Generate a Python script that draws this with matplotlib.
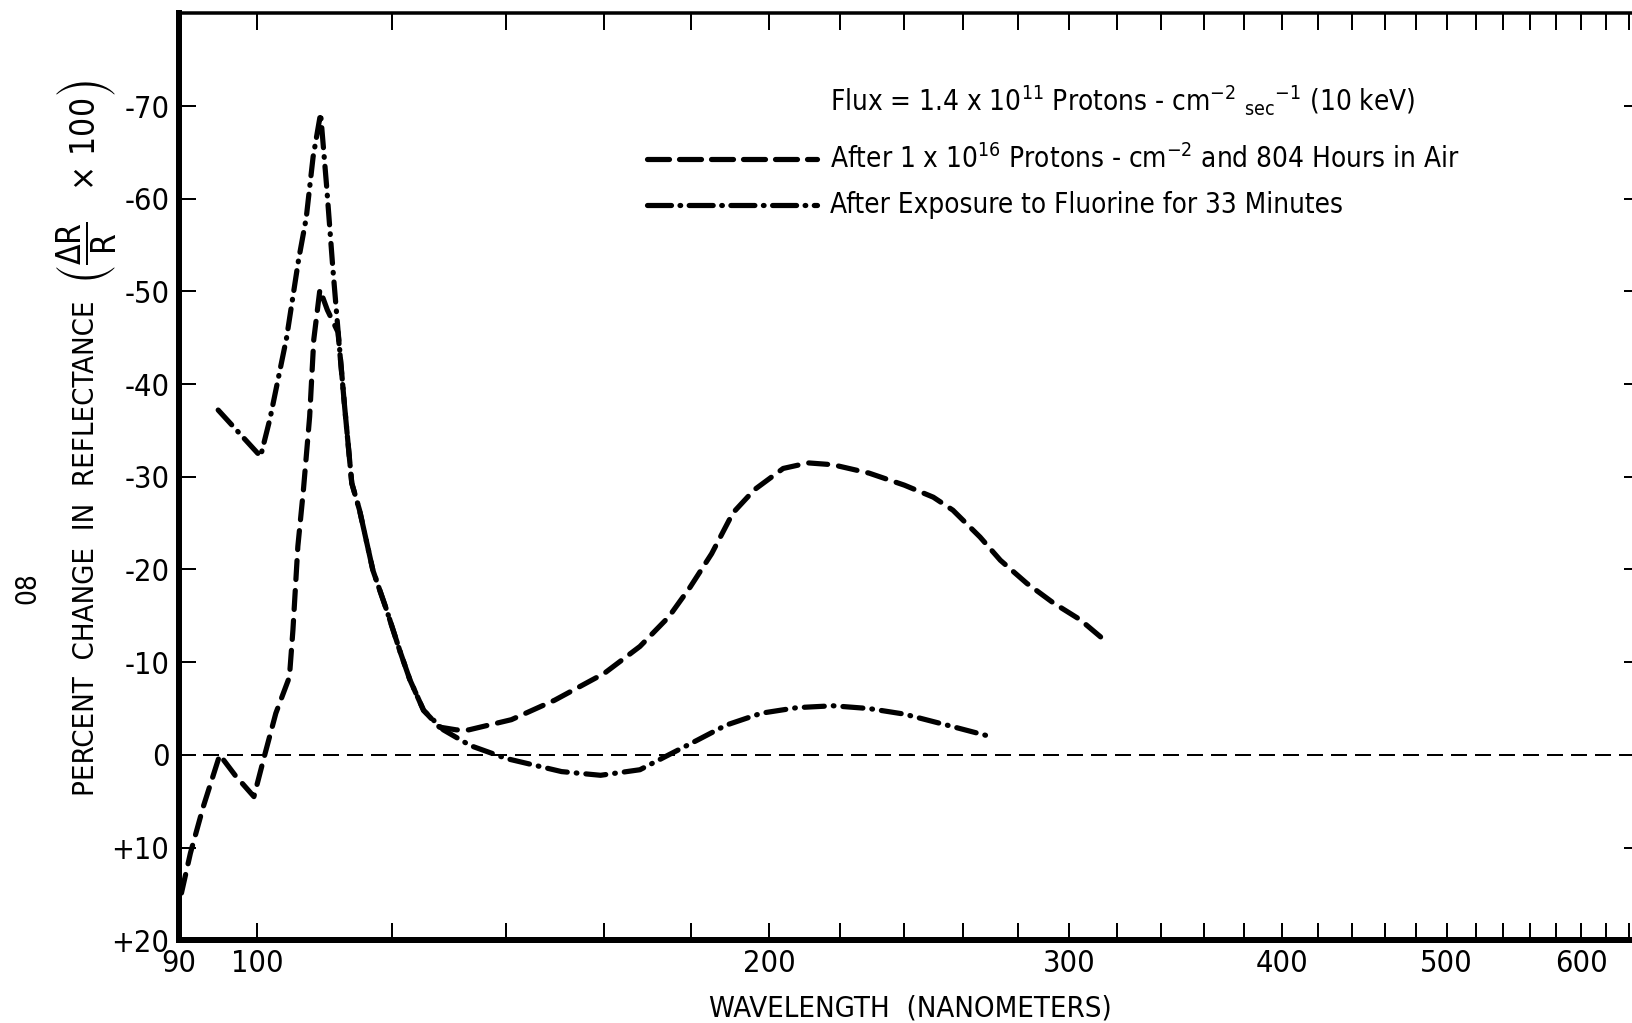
import matplotlib
matplotlib.use("Agg")
import matplotlib.pyplot as plt
from matplotlib import font_manager
from matplotlib.ticker import FixedLocator, FixedFormatter, NullFormatter

# Percent change in reflectance (delta R / R x 100) versus wavelength (nm)
# after 1e16 protons/cm^2 and 804 hours in air
proton_wavelength = [90.3, 91.4, 93.0, 95.1, 97.1, 99.6, 101.0, 102.6, 104.5, 105.0,
                     105.7, 106.5, 107.4, 108.0, 108.9, 110.0, 111.6, 112.6, 113.7, 114.9,
                     117.0, 119.2, 121.3, 123.0, 125.3, 128.0, 131.0, 133.2, 141.1, 149.6,
                     160.0, 167.9, 174.6, 179.7, 185.0, 190.4, 196.0, 203.8, 210.8, 218.0,
                     228.9, 240.1, 249.7, 256.4, 266.0, 273.4, 283.4, 293.7, 304.5, 315.6]
proton_change = [14.9, 10.6, 5.6, 0.0, 2.2, 4.5, 0.2, -4.5, -8.4, -13.5,
                 -22.5, -28.6, -36.5, -44.8, -50.2, -48.0, -45.6, -37.6, -29.3, -26.4,
                 -19.9, -15.6, -11.3, -8.1, -4.8, -3.0, -2.7, -2.7, -3.8, -5.9,
                 -8.8, -11.7, -14.9, -18.1, -21.7, -26.1, -28.6, -30.9, -31.5, -31.3,
                 -30.4, -29.1, -27.8, -26.4, -23.5, -21.0, -18.5, -16.4, -14.6, -12.2]

# after exposure to fluorine for 33 minutes
fluorine_wavelength = [94.9, 100.5, 101.8, 104.1, 105.8, 106.9, 107.9, 109.0, 109.9, 110.8,
                       111.6, 112.6, 113.7, 114.9, 117.0, 119.2, 121.3, 123.0, 125.3, 128.7,
                       133.5, 140.2, 151.0, 159.2, 167.9, 175.4, 181.5, 188.6, 197.9, 207.7,
                       218.0, 228.9, 240.1, 254.5, 269.5]
fluorine_change = [-37.2, -32.2, -36.3, -45.0, -53.4, -57.9, -64.5, -69.2, -61.3, -52.7,
                   -45.8, -37.6, -29.3, -26.4, -19.9, -15.6, -11.3, -8.1, -4.8, -2.7,
                   -1.0, 0.4, 1.8, 2.2, 1.6, -0.2, -1.6, -3.2, -4.5, -5.1,
                   -5.3, -5.0, -4.4, -3.2, -2.0]

x_label_ticks = [90, 100, 200, 300, 400, 500, 600]
x_label_text = ["90", "100", "200", "300", "400", "500", "600"]
x_other_ticks = [120, 140, 160, 180, 220, 240, 260, 280, 320, 340, 360, 380,
                 420, 440, 460, 480, 520, 540, 560, 580, 620, 640]
y_ticks = [-70, -60, -50, -40, -30, -20, -10, 0, 10, 20]
y_tick_text = ["-70", "-60", "-50", "-40", "-30", "-20", "-10", "0", "+10", "+20"]

flux_text = (r"Flux = 1.4 x 10$\mathregular{^{11}}$ Protons - cm$\mathregular{^{-2}}$ "
             r"$\mathregular{_{sec}{}^{-1}}$ (10 keV)")
proton_text = r"After 1 x 10$\mathregular{^{16}}$ Protons - cm$\mathregular{^{-2}}$ and 804 Hours in Air"
fluorine_text = "After Exposure to Fluorine for 33 Minutes"

# narrow sans face if one is installed
names = {f.name for f in font_manager.fontManager.ttflist}
stretch = "normal"
if "Liberation Sans Narrow" in names:
    family = "Liberation Sans Narrow"
elif any(f.name == "DejaVu Sans" and "ondensed" in f.fname
         for f in font_manager.fontManager.ttflist):
    family = "DejaVu Sans"
    stretch = "condensed"
else:
    family = "Liberation Sans"

plt.rcParams["font.family"] = [family, "DejaVu Sans"]
plt.rcParams["font.stretch"] = stretch
plt.rcParams["lines.scale_dashes"] = False

W, H = 1633, 1023
fig = plt.figure(figsize=(W / 100, H / 100), dpi=100)
fig.patch.set_facecolor("white")

left_px, right_px = 179.0, 1640.5
top_px, bottom_px = 13.3, 940.3
ax = fig.add_axes([left_px / W, 1 - bottom_px / H,
                   (right_px - left_px) / W, (bottom_px - top_px) / H])
ax.set_xscale("log")
ax.set_xlim(90, 650)
ax.set_ylim(20, -80)

ink = "black"
px = 0.72  # points per pixel at 100 dpi

# reference line at zero change
ax.axhline(0, color=ink, lw=2.0 * px, dashes=(16 * px, 8 * px), zorder=2)

lw_px = 5.2
ax.plot(proton_wavelength, proton_change, color=ink, lw=lw_px * px,
        dashes=(19 * px, 11 * px), dash_capstyle="round",
        solid_joinstyle="round", zorder=3)
ax.plot(fluorine_wavelength, fluorine_change, color=ink, lw=lw_px * px,
        dashes=(20 * px, 9 * px, 0.5, 9 * px), dash_capstyle="round",
        solid_joinstyle="round", zorder=3)

# spines
for side in ("left", "bottom"):
    ax.spines[side].set_linewidth(6 * px)
ax.spines["top"].set_linewidth(3.5 * px)
ax.spines["right"].set_linewidth(3 * px)

# ticks
ax.xaxis.set_major_locator(FixedLocator(x_label_ticks))
ax.xaxis.set_major_formatter(FixedFormatter(x_label_text))
ax.xaxis.set_minor_locator(FixedLocator(x_other_ticks))
ax.xaxis.set_minor_formatter(NullFormatter())
ax.yaxis.set_major_locator(FixedLocator(y_ticks))
ax.yaxis.set_major_formatter(FixedFormatter(y_tick_text))
ax.yaxis.set_minor_locator(FixedLocator([]))

ax.tick_params(axis="both", which="both", direction="in", length=17 * px,
               width=2 * px, color=ink, top=True, right=True,
               labeltop=False, labelright=False)
ax.tick_params(axis="x", which="major", pad=6, labelsize=22)
ax.tick_params(axis="y", which="major", pad=7, labelsize=22)

# axis titles
fig.text(910 / W, 1 - 1008 / H, "WAVELENGTH  (NANOMETERS)", fontsize=21,
         ha="center", va="center")
fig.text(86 / W, 1 - 548 / H, "PERCENT  CHANGE  IN  REFLECTANCE", fontsize=21,
         rotation=90, ha="center", va="center")
fig.text(87 / W, 1 - 182 / H,
         r"$\left(\dfrac{\mathregular{\Delta R}}{\mathregular{R}}\ \ \ \mathregular{\times\ 100}\right)$",
         fontsize=24, rotation=90, ha="center", va="center")
fig.text(27 / W, 1 - 588 / H, "08", fontsize=20, rotation=90,
         ha="center", va="center")

# key
fig.text(830 / W, 1 - 101 / H, flux_text, fontsize=20, ha="left", va="center")
fig.text(830 / W, 1 - 159 / H, proton_text, fontsize=20, ha="left", va="center")
fig.text(830 / W, 1 - 205 / H, fluorine_text, fontsize=20, ha="left", va="center")

key_ax = fig.add_axes([0, 0, 1, 1], facecolor="none")
key_ax.set_xlim(0, W)
key_ax.set_ylim(H, 0)
key_ax.axis("off")
key_ax.plot([647, 817], [159, 159], color=ink, lw=lw_px * px,
            dashes=(22 * px, 10 * px), dash_capstyle="round")
key_ax.plot([647, 817], [205, 205], color=ink, lw=lw_px * px,
            dashes=(24 * px, 8.5 * px, 0.5, 8.5 * px), dash_capstyle="round")

fig.savefig("out.png", dpi=100, facecolor="white")
